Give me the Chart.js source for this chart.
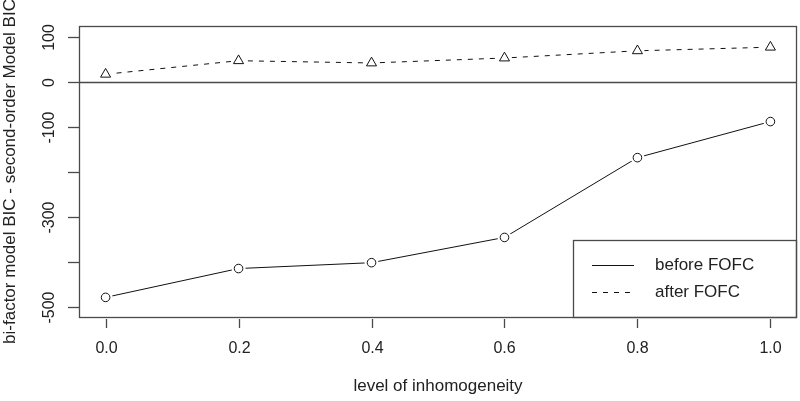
<!DOCTYPE html>
<html>
<head>
<meta charset="utf-8">
<script src="https://cdn.jsdelivr.net/npm/chart.js@4/dist/chart.umd.min.js"></script>
<style>
html,body{margin:0;padding:0;background:#fff;}
canvas{display:block;}
</style>
</head>
<body>
<canvas id="c" width="800" height="401"></canvas>
<script>
// ---- data ----
const xValues = [0, 0.2, 0.4, 0.6, 0.8, 1.0];
const beforeFOFC = [-478, -414, -401, -345, -168, -88];
const afterFOFC = [17, 47, 42, 53, 69, 77];
const xTicks = [0, 0.2, 0.4, 0.6, 0.8, 1.0];
const xTickLabels = ["0.0", "0.2", "0.4", "0.6", "0.8", "1.0"];
const yTicks = [100, 0, -100, -200, -300, -400, -500];
const yTickLabels = ["100", "0", "-100", "", "-300", "", "-500"];
const seriesNames = ["before FOFC", "after FOFC"];
const xTitle = "level of inhomogeneity";
const yTitle = "bi-factor model BIC - second-order Model BIC";

const FONT = '"Liberation Sans", Arial, sans-serif';
const AXIS = '#4a4a4a';
const INK = '#111';
const TEXT = '#222';

const pts = arr => arr.map((v, i) => ({x: xValues[i], y: v}));

const decor = {
  id: 'decor',
  beforeDatasetsDraw(chart) {
    const {ctx, chartArea: a, scales: {y}} = chart;
    ctx.save();
    ctx.strokeStyle = AXIS; ctx.lineWidth = 1.3;
    const y0 = Math.round(y.getPixelForValue(0)) + 0.5;
    ctx.beginPath(); ctx.moveTo(a.left, y0); ctx.lineTo(a.right, y0); ctx.stroke();
    ctx.restore();
  },
  afterDraw(chart) {
    const {ctx, chartArea: a, scales: {x, y}} = chart;
    ctx.save();
    // legend box
    const lx = 573, ly = 240, lr = a.right, lb = a.bottom;
    ctx.fillStyle = '#fff';
    ctx.fillRect(lx, ly, lr - lx, lb - ly);
    ctx.strokeStyle = AXIS; ctx.lineWidth = 1.3;
    ctx.strokeRect(lx + 0.5, ly + 0.5, lr - lx - 1, lb - ly);
    ctx.strokeStyle = INK; ctx.lineWidth = 1;
    ctx.beginPath(); ctx.moveTo(592, 265.5); ctx.lineTo(634, 265.5); ctx.stroke();
    ctx.setLineDash([5, 6]);
    ctx.beginPath(); ctx.moveTo(592, 292.5); ctx.lineTo(634, 292.5); ctx.stroke();
    ctx.setLineDash([]);
    ctx.fillStyle = TEXT;
    ctx.font = '17px ' + FONT;
    ctx.textAlign = 'left'; ctx.textBaseline = 'middle';
    ctx.fillText(seriesNames[0], 655, 265);
    ctx.fillText(seriesNames[1], 655, 292);

    // plot box
    ctx.strokeStyle = AXIS; ctx.lineWidth = 1.3;
    ctx.strokeRect(a.left + 0.5, a.top + 0.5, a.right - a.left - 1, a.bottom - a.top);

    // y ticks + labels (rotated)
    ctx.font = '16px ' + FONT;
    yTicks.forEach((t, i) => {
      const py = Math.round(y.getPixelForValue(t)) + 0.5;
      ctx.beginPath(); ctx.moveTo(a.left - 11, py); ctx.lineTo(a.left, py); ctx.stroke();
      if (yTickLabels[i]) {
        ctx.save();
        ctx.translate(50, py);
        ctx.rotate(-Math.PI / 2);
        ctx.textAlign = 'center'; ctx.textBaseline = 'middle';
        ctx.fillText(yTickLabels[i], 0, 0);
        ctx.restore();
      }
    });
    // x ticks + labels
    xTicks.forEach((t, i) => {
      const px = Math.round(x.getPixelForValue(t)) + 0.5;
      ctx.beginPath(); ctx.moveTo(px, a.bottom + 2); ctx.lineTo(px, a.bottom + 11); ctx.stroke();
      ctx.textAlign = 'center'; ctx.textBaseline = 'middle';
      ctx.fillText(xTickLabels[i], px, 349);
    });
    // titles
    ctx.font = '17px ' + FONT;
    ctx.textAlign = 'center'; ctx.textBaseline = 'middle';
    ctx.fillText(xTitle, (a.left + a.right) / 2, 386);
    ctx.save();
    ctx.translate(10, (a.top + a.bottom) / 2);
    ctx.rotate(-Math.PI / 2);
    ctx.fillText(yTitle, 0, 0);
    ctx.restore();
    ctx.restore();
  }
};

new Chart(document.getElementById('c'), {
  type: 'scatter',
  data: {
    datasets: [
      // markers (drawn on top)
      {label: seriesNames[0] + ' markers', data: pts(beforeFOFC), showLine: false,
       pointStyle: 'circle', pointRadius: 4.3, pointBorderWidth: 1, pointBorderColor: INK, pointBackgroundColor: 'rgba(0,0,0,0)'},
      {label: seriesNames[1] + ' markers', data: pts(afterFOFC), showLine: false,
       pointStyle: 'triangle', pointRadius: 5.8, pointBorderWidth: 1, pointBorderColor: INK, pointBackgroundColor: 'rgba(0,0,0,0)'},
      // white gaps around markers (R type="b")
      {label: 'gap1', data: pts(beforeFOFC), showLine: false,
       pointStyle: 'circle', pointRadius: 7, pointBorderWidth: 0, pointBackgroundColor: '#fff'},
      {label: 'gap2', data: pts(afterFOFC), showLine: false,
       pointStyle: 'circle', pointRadius: 7, pointBorderWidth: 0, pointBackgroundColor: '#fff'},
      // lines
      {label: seriesNames[0], data: pts(beforeFOFC), showLine: true, pointRadius: 0,
       borderColor: INK, borderWidth: 1, fill: false, tension: 0},
      {label: seriesNames[1], data: pts(afterFOFC), showLine: true, pointRadius: 0,
       borderColor: INK, borderWidth: 1, borderDash: [5, 6], fill: false, tension: 0}
    ]
  },
  options: {
    responsive: false,
    animation: false,
    devicePixelRatio: 1,
    layout: {autoPadding: false, padding: {left: 79, right: 3, top: 26, bottom: 84}},
    plugins: {legend: {display: false}, tooltip: {enabled: false}},
    events: [],
    scales: {
      x: {type: 'linear', min: -0.04, max: 1.04, display: false},
      y: {type: 'linear', min: -521.5, max: 124, display: false}
    }
  },
  plugins: [decor]
});
</script>
</body>
</html>
